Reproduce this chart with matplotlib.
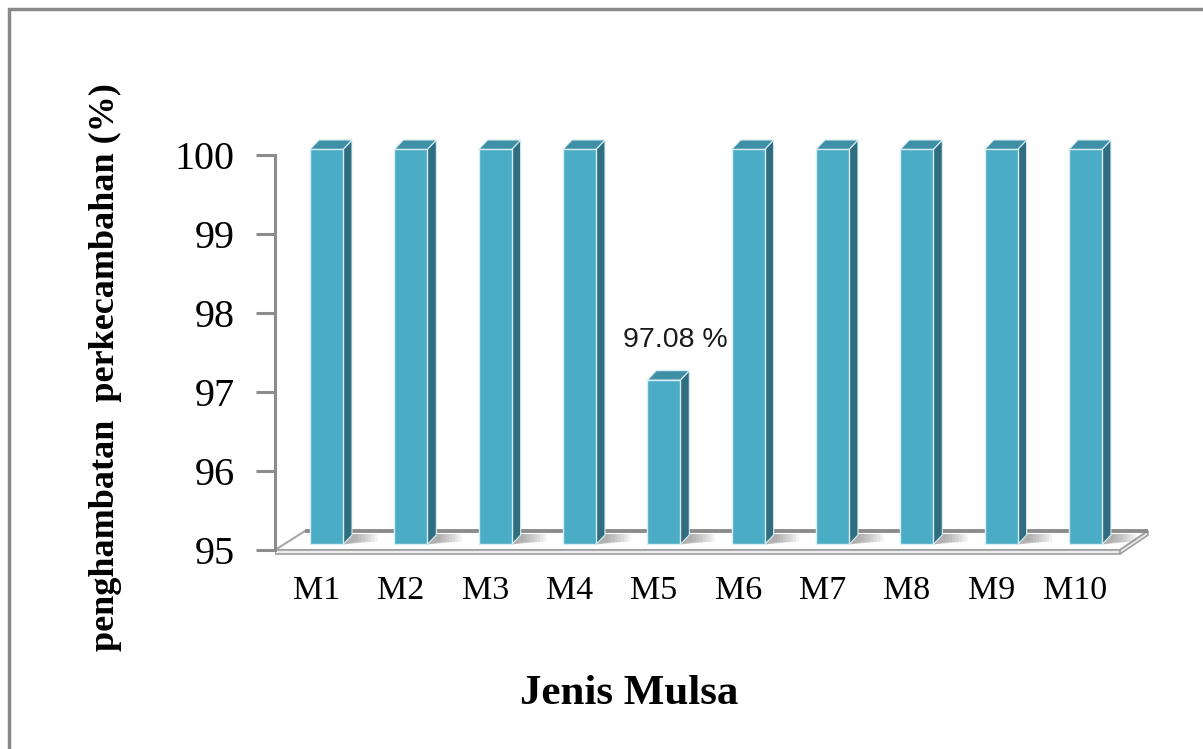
import matplotlib
matplotlib.use("Agg")
import matplotlib.pyplot as plt
from matplotlib.patches import Polygon, Rectangle

# ---- data ----
categories = ["M1", "M2", "M3", "M4", "M5", "M6", "M7", "M8", "M9", "M10"]
values = [100, 100, 100, 100, 97.08, 100, 100, 100, 100, 100]
y_ticks = [95, 96, 97, 98, 99, 100]
label_index = 4
label_text = "97.08 %"
y_label = "penghambatan  perkecambahan (%)"
x_label = "Jenis Mulsa"

# ---- style ----
FRONT = "#4BACC6"
SIDE = "#2F6E80"
TOP = "#3F8FA6"
EDGE = "#d8eef4"
GRAY = "#8c8c8c"
BASE = 95.0

W, H = 1203, 749
fig = plt.figure(figsize=(W / 100, H / 100), dpi=100)

# axes pixel geometry
px_left, px_right, px_bottom, px_top = 275, 1160, 560, 90
unit_x = 84.33          # px per category
unit_y = 79.0           # px per percent
x0_px = 326.5           # pixel of first category
y95_px = 550.0

ax = fig.add_axes([px_left / W, 1 - px_bottom / H,
                   (px_right - px_left) / W, (px_bottom - px_top) / H])
ax.set_xlim((px_left - x0_px) / unit_x, (px_right - x0_px) / unit_x)
ax.set_ylim(BASE - (px_bottom - y95_px) / unit_y, BASE + (y95_px - px_top) / unit_y)

# depth parameters in data units
dx = 9 / unit_x
dy = 9.5 / unit_y
bw = 33 / unit_x
lift = 0.07
floor_dx_l = 30 / unit_x
floor_dy = 19 / unit_y
label_shift = 10 / unit_x

xl = ax.get_xlim()[0]
xr_front = (1120 - x0_px) / unit_x
xr_back = (1148 - x0_px) / unit_x

# floor
floor = Polygon([(xl, BASE), (xr_front, BASE), (xr_back, BASE + floor_dy),
                 (xl + floor_dx_l, BASE + floor_dy)], closed=True,
                facecolor="white", edgecolor="#a6a6a6", lw=1.5, zorder=1)
ax.add_patch(floor)
thick = 4 / unit_y
ax.add_patch(Polygon([(xl, BASE), (xr_front, BASE), (xr_front, BASE - thick), (xl, BASE - thick)],
                     closed=True, facecolor="#ececec", edgecolor="#a0a0a0", lw=1.2, zorder=1))
ax.add_patch(Polygon([(xr_front, BASE), (xr_back, BASE + floor_dy), (xr_back, BASE + floor_dy - thick),
                      (xr_front, BASE - thick)], closed=True, facecolor="#ececec",
                     edgecolor="#a0a0a0", lw=1.2, zorder=1))
ax.plot([xl + floor_dx_l, xr_back], [BASE + floor_dy, BASE + floor_dy], color=GRAY, lw=2.8,
        zorder=1.5, solid_capstyle="butt")

# bars
xs = list(range(len(categories)))
for i, v in zip(xs, values):
    x1, x2 = i - bw / 2, i + bw / 2
    yb, yt = BASE + lift, v + lift
    # soft shadow on floor
    for k in range(8):
        s = (k + 1) / 8
        ax.add_patch(Polygon([(x2, yb), (x2 + dx + s * 0.3, yb + dy * 0.3),
                              (x2 + dx + s * 0.3, yb + dy * 1.1), (x2 + dx, yb + dy * 1.1)],
                             closed=True, facecolor="#6f6f6f", edgecolor="none",
                             alpha=0.09, zorder=2))
    # side
    ax.add_patch(Polygon([(x2, yb), (x2 + dx, yb + dy), (x2 + dx, yt + dy), (x2, yt)],
                         closed=True, facecolor=SIDE, edgecolor=EDGE, lw=0.8, zorder=3))
    # top
    ax.add_patch(Polygon([(x1, yt), (x2, yt), (x2 + dx, yt + dy), (x1 + dx, yt + dy)],
                         closed=True, facecolor=TOP, edgecolor=EDGE, lw=0.8, zorder=3))
    # front
    ax.add_patch(Rectangle((x1, yb), bw, yt - yb, facecolor=FRONT, edgecolor=EDGE,
                           lw=1.0, zorder=4))

# data label
ax.annotate(label_text, xy=(label_index, values[label_index]), xytext=(8, 28),
            textcoords="offset points", ha="center", va="baseline",
            fontsize=20.5, family="Liberation Sans", color="#1a1a1a", zorder=5)

# axes styling
for s in ["top", "right", "bottom"]:
    ax.spines[s].set_visible(False)
ax.spines["left"].set_bounds(BASE, max(y_ticks))
ax.spines["left"].set_color(GRAY)
ax.spines["left"].set_linewidth(2.2)
ax.set_yticks(y_ticks)
ax.set_yticklabels([str(t) for t in y_ticks], fontsize=29, family="Liberation Serif")
ax.tick_params(axis="y", length=14, width=2.2, color=GRAY, pad=15)
ax.set_xticks([i - label_shift for i in xs])
ax.set_xticklabels(categories, fontsize=24.5, family="Liberation Serif")
ax.tick_params(axis="x", length=0, pad=11)
ax.patch.set_visible(False)

# axis titles
fig.text(105 / W, 1 - 367 / H, y_label, rotation=90, ha="center", va="center",
         fontsize=26, fontweight="bold", family="Liberation Serif")
fig.text(629 / W, 1 - 704 / H, x_label, ha="center", va="baseline",
         fontsize=31, fontweight="bold", family="Liberation Serif")

# outer border
fig.patches.append(Rectangle((8.5 / W, -0.1), 1.2, (H - 8.5) / H + 0.1, transform=fig.transFigure,
                             fill=False, edgecolor="#898989", lw=2.5))

fig.savefig("out.png", dpi=100)
